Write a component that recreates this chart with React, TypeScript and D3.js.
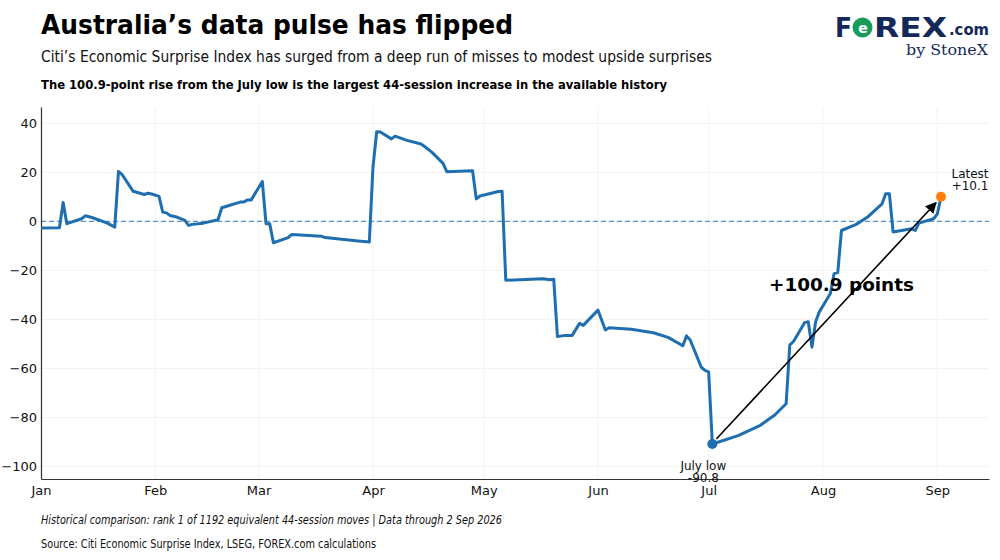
import { useEffect, useRef } from 'react';
import * as d3 from 'd3';

// Citi Economic Surprise Index (Australia), vertices
const dates = [
  '2026-01-01', '2026-01-06', '2026-01-07', '2026-01-08', '2026-01-12', '2026-01-13',
  '2026-01-15', '2026-01-19', '2026-01-21', '2026-01-22', '2026-01-23', '2026-01-26',
  '2026-01-29', '2026-01-30', '2026-01-31', '2026-02-02', '2026-02-03', '2026-02-04',
  '2026-02-05', '2026-02-07', '2026-02-09', '2026-02-10', '2026-02-11', '2026-02-14',
  '2026-02-18', '2026-02-19', '2026-02-21', '2026-02-24', '2026-02-25', '2026-02-26',
  '2026-02-27', '2026-03-02', '2026-03-03', '2026-03-04', '2026-03-05', '2026-03-09',
  '2026-03-10', '2026-03-18', '2026-03-19', '2026-03-28', '2026-03-31', '2026-04-01',
  '2026-04-02', '2026-04-03', '2026-04-06', '2026-04-07', '2026-04-10', '2026-04-14',
  '2026-04-15', '2026-04-17', '2026-04-20', '2026-04-21', '2026-04-28', '2026-04-29',
  '2026-04-30', '2026-05-05', '2026-05-06', '2026-05-07', '2026-05-14', '2026-05-17',
  '2026-05-19', '2026-05-20', '2026-05-21', '2026-05-23', '2026-05-25', '2026-05-27',
  '2026-05-28', '2026-06-01', '2026-06-03', '2026-06-04', '2026-06-10', '2026-06-16',
  '2026-06-20', '2026-06-24', '2026-06-25', '2026-06-26', '2026-06-29', '2026-06-30',
  '2026-07-01', '2026-07-02', '2026-07-09', '2026-07-15', '2026-07-19', '2026-07-22',
  '2026-07-23', '2026-07-24', '2026-07-27', '2026-07-28', '2026-07-29', '2026-07-30',
  '2026-07-31', '2026-08-03', '2026-08-04', '2026-08-05', '2026-08-06', '2026-08-10',
  '2026-08-13', '2026-08-17', '2026-08-18', '2026-08-19', '2026-08-20', '2026-08-25',
  '2026-08-26', '2026-08-27', '2026-08-31', '2026-09-01', '2026-09-02',
];

const values = [
  -2.7, -2.6, 7.7, -0.9, 1.1, 2.3,
  1.5, -0.7, -2.3, 20.4, 19.1, 12.3,
  11.0, 11.5, 11.2, 10.2, 3.8, 3.5,
  2.4, 1.7, 0.4, -1.6, -1.2, -0.7,
  0.7, 5.6, 6.5, 7.9, 7.9, 8.8,
  8.8, 16.3, -0.9, -0.9, -8.7, -6.6,
  -5.3, -6.0, -6.6, -8.0, -8.4, 22.1,
  36.6, 36.5, 33.7, 34.8, 33.2, 31.6,
  30.6, 28.2, 23.7, 20.3, 20.7, 9.2,
  10.4, 12.2, 12.3, -24.0, -23.6, -23.4,
  -23.8, -23.6, -47.0, -46.5, -46.5, -41.6,
  -42.4, -36.2, -44.3, -43.4, -44.0, -45.4,
  -47.3, -50.7, -46.7, -48.4, -59.5, -60.8,
  -61.4, -90.8, -87.4, -83.2, -78.9, -74.4,
  -50.4, -49.0, -41.3, -40.9, -51.3, -40.9,
  -36.9, -29.4, -21.3, -20.9, -3.7, -1.2,
  1.7, 7.2, 11.3, 11.3, -4.3, -3.0,
  -3.7, -0.7, 1.1, 3.1, 10.1,
];

const yTicks = [-100, -80, -60, -40, -20, 0, 20, 40];
const monthTicks = ['2026-01-01', '2026-02-01', '2026-03-01', '2026-04-01', '2026-05-01', '2026-06-01', '2026-07-01', '2026-08-01', '2026-09-01'];
const xDomain = ['2026-01-01', '2026-09-15'];
const yDomain = [-105.1, 46.7];

const lowIndex = 79;
const latestIndex = values.length - 1;
const riseLabel = '+100.9 points';
const riseLabelDate = '2026-08-06';
const riseLabelValue = -28.5;

const FONT = "'DejaVu Sans', sans-serif";

const Chart = () => {
  const svgRef = useRef<SVGSVGElement>(null);

  useEffect(() => {
    if (!svgRef.current) return;
    const root = d3.select(svgRef.current);
    root.selectAll('*').remove();

    const W = 1000;
    const H = 560;
    const plot = { left: 41, right: 989, top: 107, bottom: 479 };
    const parse = d3.timeParse('%Y-%m-%d');
    const data = dates.map((d, i) => ({ date: parse(d)!, value: values[i] }));

    root.attr('width', W).attr('height', H);
    root.append('rect').attr('width', W).attr('height', H).attr('fill', '#fff');

    const x = d3.scaleTime().domain(xDomain.map((d) => parse(d)!)).range([plot.left, plot.right]);
    const y = d3.scaleLinear().domain(yDomain).range([plot.bottom, plot.top]);

    // titles
    root.append('text').attr('x', 41).attr('y', 34).attr('font-family', FONT)
      .attr('font-size', 26.5).attr('font-weight', 'bold').attr('fill', '#000')
      .attr('textLength', 472).attr('lengthAdjust', 'spacingAndGlyphs')
      .text('Australia’s data pulse has flipped');
    root.append('text').attr('x', 41).attr('y', 62).attr('font-family', FONT)
      .attr('font-size', 15.5).attr('fill', '#111')
      .attr('textLength', 671).attr('lengthAdjust', 'spacingAndGlyphs')
      .text('Citi’s Economic Surprise Index has surged from a deep run of misses to modest upside surprises');
    root.append('text').attr('x', 41).attr('y', 89).attr('font-family', FONT)
      .attr('font-size', 12.8).attr('font-weight', 'bold').attr('fill', '#000')
      .attr('textLength', 626).attr('lengthAdjust', 'spacingAndGlyphs')
      .text('The 100.9-point rise from the July low is the largest 44-session increase in the available history');

    // grid
    const g = root.append('g');
    g.selectAll('.hgrid').data(yTicks).enter().append('line')
      .attr('x1', plot.left).attr('x2', plot.right)
      .attr('y1', (d) => y(d)).attr('y2', (d) => y(d))
      .attr('stroke', '#f0f0f0').attr('stroke-width', 0.8);
    g.selectAll('.vgrid').data(monthTicks).enter().append('line')
      .attr('x1', (d) => x(parse(d)!)).attr('x2', (d) => x(parse(d)!))
      .attr('y1', plot.top).attr('y2', plot.bottom)
      .attr('stroke', '#f0f0f0').attr('stroke-width', 0.8);

    // zero line
    g.append('line').attr('x1', plot.left).attr('x2', plot.right)
      .attr('y1', y(0)).attr('y2', y(0))
      .attr('stroke', '#5f93c2').attr('stroke-width', 1.2).attr('stroke-dasharray', '5,3');

    // axes
    const yAxis = d3.axisLeft(y).tickValues(yTicks).tickSize(0).tickPadding(4).tickFormat(d3.format('d'));
    g.append('g').attr('transform', `translate(${plot.left},0)`).call(yAxis)
      .call((s) => s.select('.domain').attr('stroke', '#333').attr('stroke-width', 1.2))
      .call((s) => s.selectAll('.tick text').attr('font-family', FONT).attr('font-size', 13).attr('fill', '#111'));
    const xAxis = d3.axisBottom(x).tickValues(monthTicks.map((d) => parse(d)!)).tickSize(0).tickPadding(7)
      .tickFormat((d) => d3.timeFormat('%b')(d as Date));
    g.append('g').attr('transform', `translate(0,${plot.bottom})`).call(xAxis)
      .call((s) => s.select('.domain').attr('stroke', '#333').attr('stroke-width', 1.2))
      .call((s) => s.selectAll('.tick text').attr('font-family', FONT).attr('font-size', 13).attr('fill', '#111'));

    // series
    const line = d3.line<{ date: Date; value: number }>().x((d) => x(d.date)).y((d) => y(d.value));
    g.append('path').datum(data).attr('d', line).attr('fill', 'none')
      .attr('stroke', '#1f6fb0').attr('stroke-width', 3).attr('stroke-linejoin', 'round');

    const low = data[lowIndex];
    const latest = data[latestIndex];

    // arrow
    const defs = root.append('defs');
    defs.append('marker').attr('id', 'arrowhead').attr('viewBox', '0 0 10 10')
      .attr('refX', 9).attr('refY', 5).attr('markerWidth', 7).attr('markerHeight', 7)
      .attr('orient', 'auto').append('path').attr('d', 'M0,0 L10,5 L0,10 z').attr('fill', '#000');
    g.append('line')
      .attr('x1', x(low.date) + 4).attr('y1', y(low.value) - 5)
      .attr('x2', x(latest.date) - 5).attr('y2', y(latest.value) + 6)
      .attr('stroke', '#000').attr('stroke-width', 1.6).attr('marker-end', 'url(#arrowhead)');

    // points
    g.append('circle').attr('cx', x(low.date)).attr('cy', y(low.value)).attr('r', 5).attr('fill', '#1f6fb0');
    g.append('circle').attr('cx', x(latest.date)).attr('cy', y(latest.value)).attr('r', 5).attr('fill', '#ff7f0e');

    // annotations
    const lowLabel = g.append('text').attr('font-family', FONT).attr('font-size', 12)
      .attr('text-anchor', 'middle').attr('fill', '#111');
    lowLabel.append('tspan').attr('x', x(low.date) - 9).attr('y', y(low.value) + 26).text('July low');
    lowLabel.append('tspan').attr('x', x(low.date) - 9).attr('y', y(low.value) + 38.5).text(low.value.toFixed(1));

    const latestLabel = g.append('text').attr('font-family', FONT).attr('font-size', 12)
      .attr('text-anchor', 'middle').attr('fill', '#111');
    latestLabel.append('tspan').attr('x', x(latest.date) + 29).attr('y', y(latest.value) - 19).text('Latest');
    latestLabel.append('tspan').attr('x', x(latest.date) + 29).attr('y', y(latest.value) - 7).text(d3.format('+.1f')(latest.value));

    g.append('text').attr('x', x(parse(riseLabelDate)!)).attr('y', y(riseLabelValue))
      .attr('text-anchor', 'middle').attr('font-family', FONT).attr('font-size', 18.4)
      .attr('font-weight', 'bold').attr('fill', '#000').text(riseLabel);

    // footer
    root.append('text').attr('x', 41).attr('y', 524).attr('font-family', FONT)
      .attr('font-size', 11.4).attr('font-style', 'italic').attr('fill', '#111')
      .attr('textLength', 461).attr('lengthAdjust', 'spacingAndGlyphs')
      .text('Historical comparison: rank 1 of 1192 equivalent 44-session moves | Data through 2 Sep 2026');
    root.append('text').attr('x', 41).attr('y', 548).attr('font-family', FONT)
      .attr('font-size', 11.4).attr('fill', '#111')
      .attr('textLength', 335).attr('lengthAdjust', 'spacingAndGlyphs')
      .text('Source: Citi Economic Surprise Index, LSEG, FOREX.com calculations');

    // logo
    const logo = root.append('g');
    const navy = '#15285a';
    logo.append('text').attr('x', 835).attr('y', 37).attr('font-family', FONT).attr('font-size', 26)
      .attr('font-weight', 'bold').attr('fill', navy).attr('textLength', 17).attr('lengthAdjust', 'spacingAndGlyphs').text('F');
    logo.append('circle').attr('cx', 862.5).attr('cy', 27.5).attr('r', 10).attr('fill', '#1a9b5c');
    logo.append('text').attr('x', 863).attr('y', 32.5).attr('text-anchor', 'middle').attr('font-family', FONT)
      .attr('font-size', 14).attr('font-weight', 'bold').attr('fill', '#fff').text('e');
    logo.append('text').attr('x', 874).attr('y', 37).attr('font-family', FONT).attr('font-size', 26)
      .attr('font-weight', 'bold').attr('fill', navy).attr('textLength', 73).attr('lengthAdjust', 'spacingAndGlyphs').text('REX');
    logo.append('text').attr('x', 949).attr('y', 35).attr('font-family', FONT).attr('font-size', 15)
      .attr('font-weight', 'bold').attr('fill', navy).attr('textLength', 40).attr('lengthAdjust', 'spacingAndGlyphs').text('.com');
    logo.append('text').attr('x', 906).attr('y', 55).attr('font-family', "'DejaVu Serif', serif").attr('font-size', 15)
      .attr('fill', navy).attr('textLength', 82).attr('lengthAdjust', 'spacingAndGlyphs').text('by StoneX');
  }, []);

  return <svg ref={svgRef} style={{ position: 'absolute', left: 0, top: 0, display: 'block' }}></svg>;
};

export default function App() {
  return <Chart />;
}
